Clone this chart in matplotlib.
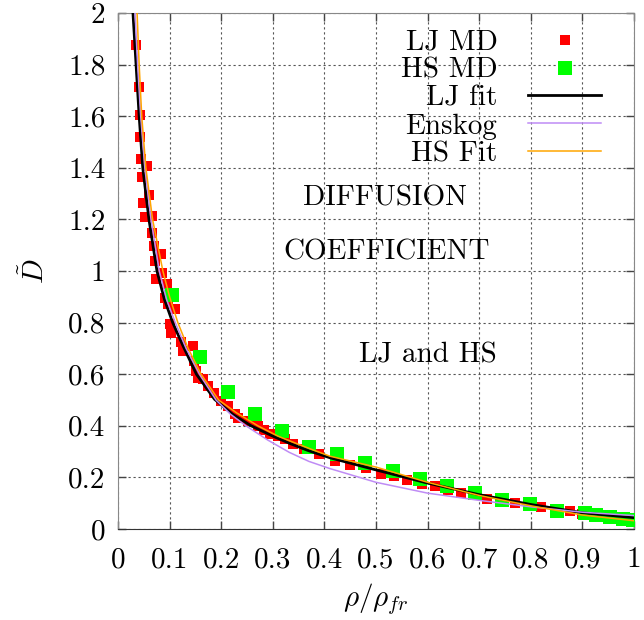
import matplotlib
matplotlib.use("Agg")
import matplotlib.pyplot as plt
import numpy as np

plt.rcParams['font.family'] = 'serif'
plt.rcParams['font.serif'] = ['cmr10', 'DejaVu Serif']
plt.rcParams['mathtext.fontset'] = 'cm'
plt.rcParams['axes.unicode_minus'] = False
plt.rcParams['axes.formatter.use_mathtext'] = True

# LJ MD points (rho/rho_fr, D)
lj_x = [0.035, 0.040, 0.042, 0.043, 0.045, 0.057, 0.046, 0.061, 0.048, 0.052, 0.065,
        0.066, 0.070, 0.083, 0.072, 0.085, 0.074, 0.094, 0.092, 0.110, 0.097, 0.100,
        0.103, 0.123, 0.126, 0.145, 0.148, 0.152, 0.155, 0.165, 0.174, 0.187, 0.200,
        0.213, 0.226, 0.232, 0.252, 0.271, 0.283, 0.294, 0.310, 0.323, 0.339, 0.360,
        0.390, 0.420, 0.450, 0.480, 0.510, 0.535, 0.560, 0.590, 0.615, 0.640, 0.665,
        0.690, 0.715, 0.740, 0.770, 0.795, 0.820, 0.850, 0.875, 0.900]
lj_y = [1.875, 1.714, 1.604, 1.520, 1.436, 1.406, 1.365, 1.294, 1.265, 1.210, 1.215,
        1.148, 1.097, 1.065, 1.039, 0.994, 0.968, 0.948, 0.897, 0.852, 0.871, 0.794,
        0.761, 0.723, 0.690, 0.710, 0.652, 0.613, 0.587, 0.580, 0.555, 0.529, 0.497,
        0.477, 0.445, 0.432, 0.419, 0.400, 0.385, 0.368, 0.360, 0.348, 0.329, 0.310,
        0.290, 0.265, 0.250, 0.235, 0.215, 0.205, 0.190, 0.175, 0.165, 0.152, 0.140,
        0.130, 0.118, 0.110, 0.100, 0.092, 0.085, 0.072, 0.068, 0.060]

# HS MD points
hs_x = [0.105, 0.158, 0.213, 0.266, 0.317, 0.370, 0.424, 0.479, 0.532, 0.585, 0.638,
        0.692, 0.745, 0.798, 0.851, 0.905, 0.927, 0.953, 0.979, 0.998]
hs_y = [0.906, 0.665, 0.532, 0.445, 0.381, 0.318, 0.289, 0.257, 0.225, 0.194, 0.166,
        0.139, 0.111, 0.095, 0.070, 0.061, 0.054, 0.048, 0.039, 0.034]

# LJ fit curve
ljfit_x = [0.029, 0.035, 0.041, 0.048, 0.060, 0.0755, 0.090, 0.106, 0.126, 0.152, 0.187,
           0.222, 0.258, 0.300, 0.335, 0.370, 0.411, 0.500, 0.600, 0.700, 0.800, 0.900, 1.000]
ljfit_y = [2.000, 1.800, 1.600, 1.400, 1.200, 1.000, 0.890, 0.800, 0.710, 0.600, 0.503,
           0.445, 0.400, 0.360, 0.330, 0.303, 0.276, 0.229, 0.178, 0.133, 0.095, 0.063, 0.044]

# Enskog curve
ensk_x = [0.033, 0.038, 0.044, 0.052, 0.064, 0.080, 0.094, 0.111, 0.132, 0.158, 0.190,
          0.218, 0.248, 0.290, 0.332, 0.370, 0.411, 0.500, 0.600, 0.700, 0.800, 0.900, 1.000]
ensk_y = [2.000, 1.800, 1.600, 1.400, 1.200, 1.000, 0.890, 0.800, 0.700, 0.600, 0.500,
          0.445, 0.400, 0.345, 0.297, 0.262, 0.234, 0.181, 0.139, 0.111, 0.086, 0.065, 0.052]

# HS fit curve
hsfit_x = [0.037, 0.041, 0.046, 0.054, 0.067, 0.087, 0.100, 0.116, 0.136, 0.161, 0.195,
           0.230, 0.271, 0.310, 0.345, 0.380, 0.411, 0.500, 0.600, 0.700, 0.800, 0.900, 1.000]
hsfit_y = [2.000, 1.800, 1.600, 1.400, 1.200, 1.000, 0.900, 0.800, 0.700, 0.600, 0.500,
           0.450, 0.400, 0.360, 0.332, 0.305, 0.282, 0.240, 0.181, 0.130, 0.090, 0.054, 0.032]

x_ticks = [0, 0.1, 0.2, 0.3, 0.4, 0.5, 0.6, 0.7, 0.8, 0.9, 1]
x_labels = ['0', '0.1', '0.2', '0.3', '0.4', '0.5', '0.6', '0.7', '0.8', '0.9', '1']
y_ticks = [0, 0.2, 0.4, 0.6, 0.8, 1, 1.2, 1.4, 1.6, 1.8, 2]
y_labels = ['0', '0.2', '0.4', '0.6', '0.8', '1', '1.2', '1.4', '1.6', '1.8', '2']

fs = 21

fig = plt.figure(figsize=(6.44, 6.2), dpi=100)
ax = fig.add_axes([118 / 644, 1 - 529 / 620, 516 / 644, 516 / 620])

ax.plot(lj_x, lj_y, 's', color='#ff0000', markersize=7.5, markeredgewidth=0, label='LJ MD', zorder=3)
ax.plot(hs_x, hs_y, 's', color='#00ff00', markersize=9.5, markeredgewidth=0, label='HS MD', zorder=3)
ax.plot(ljfit_x, ljfit_y, '-', color='black', lw=2.0, label='LJ fit', zorder=4)
ax.plot(ensk_x, ensk_y, '-', color='#bf8cf5', lw=1.1, label='Enskog', zorder=4)
ax.plot(hsfit_x, hsfit_y, '-', color='#ffa500', lw=1.1, label='HS Fit', zorder=4)

ax.set_xlim(0, 1)
ax.set_ylim(0, 2)
ax.set_xticks(x_ticks, x_labels)
ax.set_yticks(y_ticks, y_labels)
ax.tick_params(direction='in', length=6, width=1, top=True, right=True,
               labelsize=fs, color='#444444')
ax.tick_params(axis='x', pad=13)
ax.tick_params(axis='y', pad=9)
ax.grid(True, color='#555555', linestyle=(0, (2, 2.5)), lw=0.8)
ax.set_axisbelow(True)

for side in ['left', 'top', 'right']:
    ax.spines[side].set_color('#888888')
ax.spines['bottom'].set_color('#333333')

ax.set_xlabel(r'$\rho/\rho_{fr}$', fontsize=fs, labelpad=6)
ax.set_ylabel(r'$\tilde{D}$', fontsize=fs, labelpad=13)

ax.text(0.517, 1.283, 'DIFFUSION', fontsize=fs, ha='center', va='center')
ax.text(0.521, 1.074, 'COEFFICIENT', fontsize=fs, ha='center', va='center')
ax.text(0.600, 0.674, 'LJ and HS', fontsize=fs, ha='center', va='center')

leg = ax.legend(loc='upper right', bbox_to_anchor=(0.936, 0.968), frameon=False,
                markerfirst=False, fontsize=fs, handlelength=2.5, handletextpad=1.05,
                labelspacing=0.05, borderpad=0, borderaxespad=0, numpoints=1)
for col in leg._legend_box.get_children()[1].get_children():
    col.align = 'right'

fig.savefig('out.png', dpi=100)
